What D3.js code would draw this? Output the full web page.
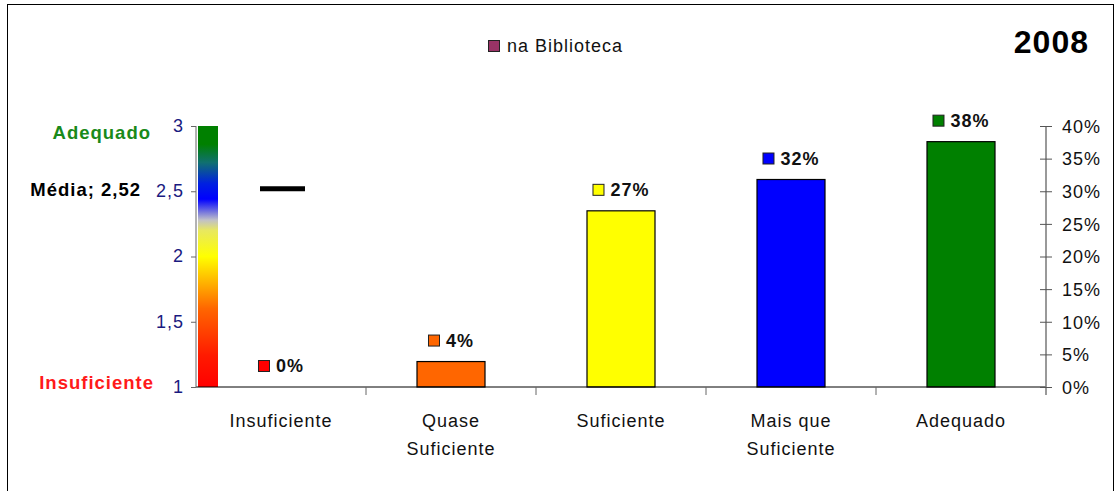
<!DOCTYPE html>
<html><head><meta charset="utf-8">
<script src="https://cdn.jsdelivr.net/npm/d3@7"></script>
<style>
body{margin:0;background:#fff;}
text{font-family:"Liberation Sans",Arial,Helvetica,sans-serif;letter-spacing:1px;}
</style></head>
<body>
<svg id="chart" width="1120" height="491"></svg>
<script>
const categories = [["Insuficiente"],["Quase","Suficiente"],["Suficiente"],["Mais que","Suficiente"],["Adequado"]];
const values = [0, 3.9, 27.0, 31.8, 37.6];
const barColors = ["#ff0000","#ff6600","#ffff00","#0000ff","#008000"];
const leftTicks = [1, 1.5, 2, 2.5, 3];
const rightTicks = [0, 5, 10, 15, 20, 25, 30, 35, 40];
const meanValue = 2.52;
const meanLabel = "Média; 2,52";
const legendLabel = "na Biblioteca";
const titleText = "2008";
const gradientStops = [[0,"#ff0000"],[0.12,"#ff1a00"],[0.3,"#ff6600"],[0.5,"#ffff00"],[0.6,"#e8e860"],[0.64,"#c0c0c8"],[0.72,"#0000ff"],[0.78,"#0020e0"],[0.86,"#107070"],[0.93,"#008000"],[1,"#008000"]];

const svg = d3.select("#chart");
const pLeft = 196, pRight = 1046, pTop = 126, pBottom = 387;

// frame
svg.append("rect").attr("x",7.5).attr("y",4.5).attr("width",1106).attr("height",500)
  .attr("fill","none").attr("stroke","#000").attr("stroke-width",1);

const x = d3.scaleBand().domain(d3.range(categories.length)).range([pLeft,pRight]).paddingInner(0).paddingOuter(0);
const yL = d3.scaleLinear().domain([1,3]).range([pBottom,pTop]);
const yR = d3.scaleLinear().domain([0,40]).range([pBottom,pTop]);

// gradient
const defs = svg.append("defs");
const lg = defs.append("linearGradient").attr("id","grad").attr("x1",0).attr("y1",1).attr("x2",0).attr("y2",0);
gradientStops.forEach(s=>lg.append("stop").attr("offset",s[0]).attr("stop-color",s[1]));
svg.append("rect").attr("x",pLeft+2).attr("width",20).attr("y",yL(3)).attr("height",yL(1)-yL(3)).attr("fill","url(#grad)");

// bars
const barW = x.bandwidth()*0.4;
svg.selectAll("rect.bar").data(values).enter().append("rect").attr("class","bar")
  .attr("x",(d,i)=>x(i)+x.bandwidth()/2-barW/2).attr("width",barW)
  .attr("y",d=>yR(d)).attr("height",d=>yR(0)-yR(d))
  .attr("fill",(d,i)=>barColors[i]).attr("stroke","#000").attr("stroke-width",d=>d>0?1.2:0);

// bottom axis
const gx = svg.append("g").attr("transform",`translate(0,${pBottom})`);
gx.append("line").attr("x1",pLeft).attr("x2",pRight).attr("stroke","#000");
d3.range(1,categories.length).forEach(i=>{
  gx.append("line").attr("x1",x(i)).attr("x2",x(i)).attr("y1",0).attr("y2",8).attr("stroke","#666");
});
categories.forEach((lines,i)=>{
  lines.forEach((ln,j)=>{
    gx.append("text").attr("x",x(i)+x.bandwidth()/2).attr("y",40+j*28).attr("text-anchor","middle")
      .attr("font-size",18).attr("fill","#111").text(ln);
  });
});

// left axis
const gl = svg.append("g").attr("transform",`translate(${pLeft},0)`)
  .call(d3.axisLeft(yL).tickValues(leftTicks).tickSize(5).tickPadding(7).tickFormat(d=>String(d).replace(".",",")));
gl.select(".domain").attr("stroke","#666").attr("d",`M0,${pTop}V${pBottom}`);
gl.selectAll(".tick line").attr("stroke","#666");
gl.selectAll(".tick text").attr("font-size",18).attr("fill","#1a1a80").attr("font-family","Liberation Sans, Arial, sans-serif").attr("dy","0.3em");

// right axis
const gr = svg.append("g").attr("transform",`translate(${pRight},0)`)
  .call(d3.axisRight(yR).tickValues(rightTicks).tickSize(5).tickPadding(11).tickFormat(d=>d+"%"));
gr.select(".domain").attr("stroke","#777").attr("stroke-width",1.5).attr("d",`M0,${pTop}V${pBottom+8}`);
gr.selectAll(".tick line").attr("stroke","#555").attr("x1",-6).attr("x2",6);
gr.selectAll(".tick text").attr("font-size",18).attr("fill","#111").attr("font-family","Liberation Sans, Arial, sans-serif").attr("dy","0.35em");

// mean line
const mx = x(0)+x.bandwidth()/2;
svg.append("line").attr("x1",mx-21).attr("x2",mx+24).attr("y1",yL(meanValue)).attr("y2",yL(meanValue))
  .attr("stroke","#000").attr("stroke-width",5);

// left labels
svg.append("text").attr("x",141).attr("y",yL(meanValue)+7).attr("text-anchor","end").attr("font-size",18.5)
  .attr("font-weight","bold").attr("fill","#000").text(meanLabel);
svg.append("text").attr("x",151).attr("y",yL(3)+12.5).attr("text-anchor","end").attr("font-size",18.5)
  .attr("font-weight","bold").attr("fill","#1a8a1a").text(categories[4][0]);
svg.append("text").attr("x",154).attr("y",yL(1)+1.5).attr("text-anchor","end").attr("font-size",18.5)
  .attr("font-weight","bold").attr("fill","#ff1a1a").text(categories[0][0]);

// value labels
values.forEach((v,i)=>{
  const g = svg.append("g");
  const t = g.append("text").attr("font-size",18).attr("font-weight","bold").attr("fill","#111").text(Math.round(v)+"%");
  const tw = t.node().getComputedTextLength();
  const total = 12+6+tw;
  const cx = x(i)+x.bandwidth()/2;
  const x0 = cx-total/2;
  const yt = yR(v);
  g.append("rect").attr("x",x0+0.5).attr("y",yt-26.5).attr("width",11).attr("height",11)
    .attr("fill",barColors[i]).attr("stroke","#222").attr("stroke-width",1);
  t.attr("x",x0+18).attr("y",yt-15);
});

// legend
svg.append("rect").attr("x",488.5).attr("y",40.5).attr("width",11).attr("height",11).attr("fill","#993366").attr("stroke","#222");
svg.append("text").attr("x",507).attr("y",52).attr("font-size",18).attr("fill","#111").text(legendLabel);

// title
svg.append("text").attr("x",1089).attr("y",53).attr("text-anchor","end").attr("font-size",32)
  .attr("font-weight","bold").attr("fill","#000").text(titleText);
</script>
</body></html>
